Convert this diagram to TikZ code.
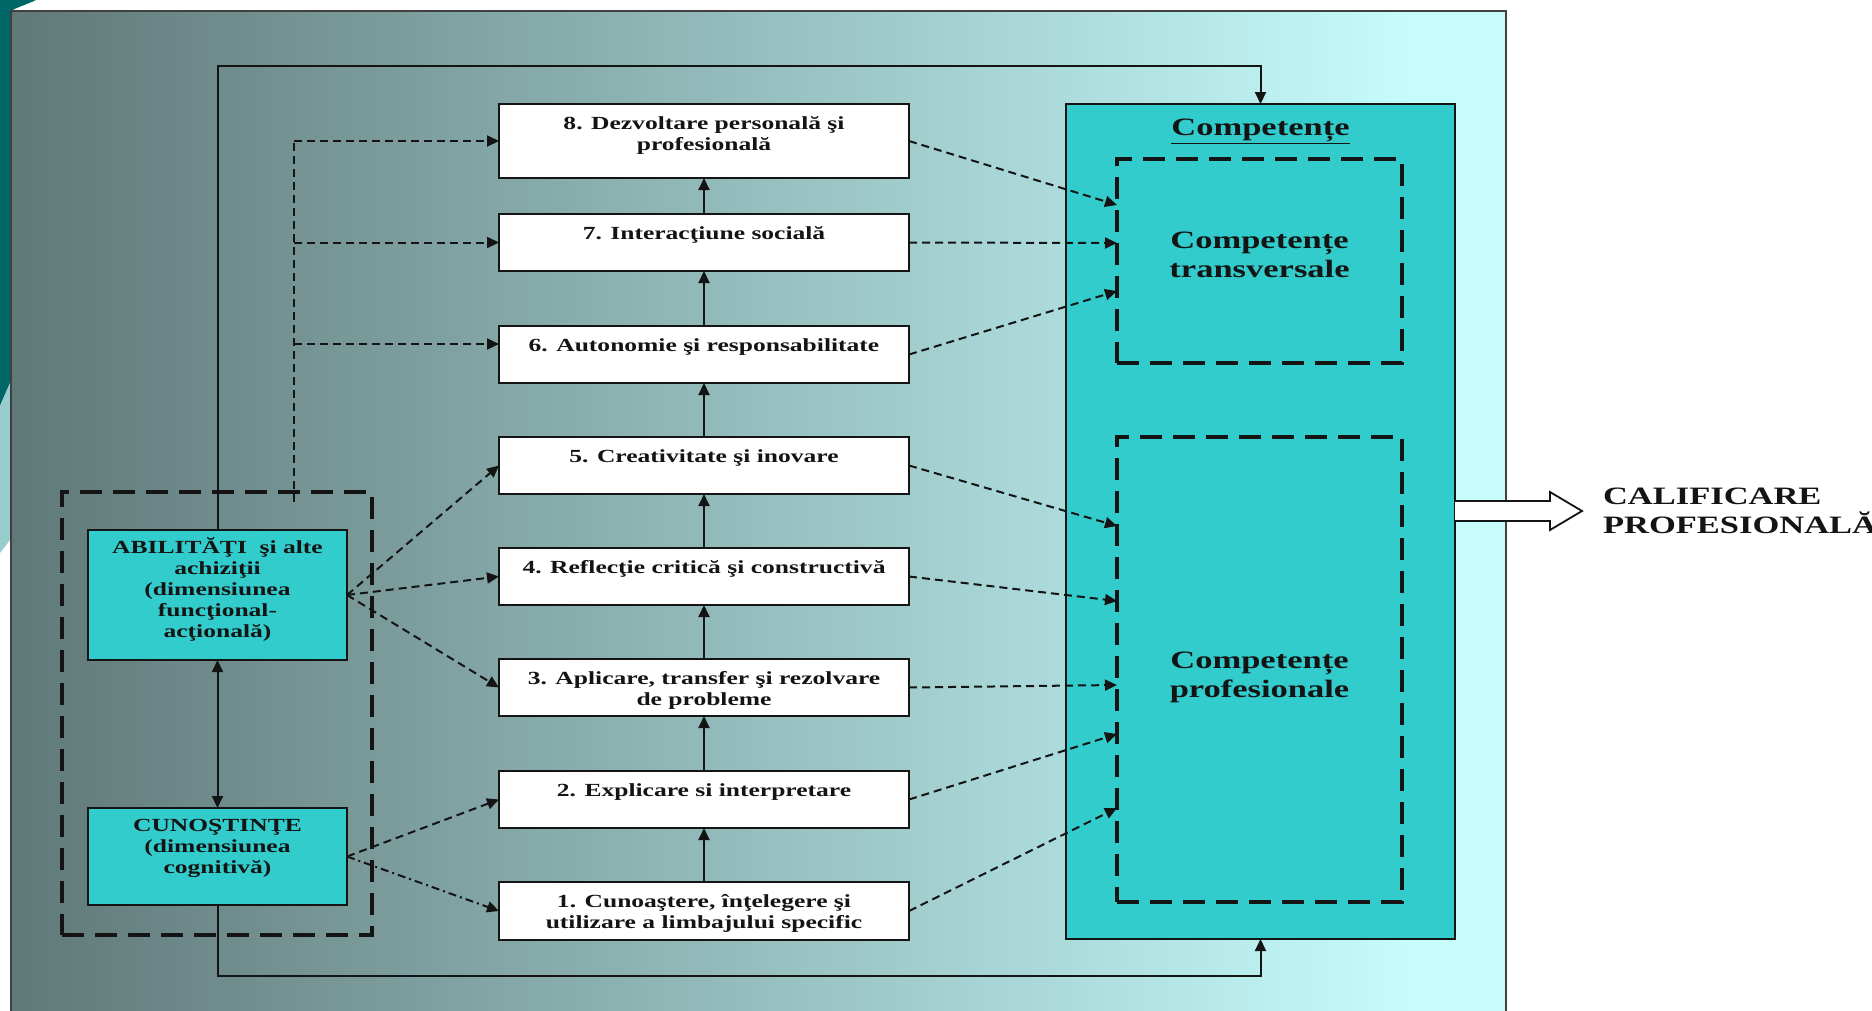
\documentclass[tikz,border=0pt]{standalone}
\usepackage{fontspec}
\setmainfont[FakeStretch=1.38]{Liberation Serif}
\usetikzlibrary{arrows.meta,calc}
\definecolor{bgL}{RGB}{96,120,120}
\definecolor{bgR}{RGB}{198,252,252}
\definecolor{cyanbox}{RGB}{51,204,204}
\definecolor{tealdark}{RGB}{0,102,102}
\definecolor{teallight}{RGB}{153,204,204}
\definecolor{ink}{RGB}{20,20,20}
\newcommand\tst{\rule{0pt}{18pt}}
\newcommand\tbig{\rule{0pt}{24pt}}
\begin{document}
\begin{tikzpicture}[x=1pt,y=-1pt,
  tip/.tip={Triangle[length=12pt,width=11pt]},
  wbox/.style={draw=ink,line width=2.4pt,fill=white,minimum width=410pt,minimum height=57pt,inner sep=0pt,outer sep=0pt},
  cbox/.style={draw=ink,line width=2.4pt,fill=cyanbox,inner sep=0pt,outer sep=0pt},
  grpbox/.style={draw=ink,line width=3.5pt,dash pattern=on 22pt off 11pt,line join=miter,inner sep=0pt,outer sep=0pt},
  txt/.style={inner sep=0pt,outer sep=0pt,align=center,text=ink,font=\bfseries\fontsize{18.5}{21}\selectfont},
  bigtxt/.style={inner sep=0pt,outer sep=0pt,align=center,text=ink,font=\bfseries\fontsize{25}{29}\selectfont},
  solidarr/.style={draw=ink,line width=2pt,-tip},
  dasharr/.style={draw=ink,line width=2pt,dash pattern=on 8pt off 5pt,-tip},
  dashline/.style={draw=ink,line width=2pt,dash pattern=on 8pt off 5pt},
  dashdotarr/.style={draw=ink,line width=2pt,dash pattern=on 8pt off 4pt on 2pt off 4pt,-tip}
]
\useasboundingbox (0,0) rectangle (1872,1010);
% slide decoration
\fill[tealdark] (0,0) -- (36,0) .. controls (26,5) and (14,8) .. (10,12) -- (10,383) -- (0,406) -- cycle;
\fill[teallight] (0,406) -- (10,383) -- (10,540) -- (0,553) -- cycle;
% background frame
\fill[bgR] (1400,11) rectangle (1506,1030);
\shade[left color=bgL,right color=bgR] (11,11) rectangle (1410,1030);
\draw[draw=black!75,line width=2pt] (11,11) rectangle (1506,1030);

% left group
\node[grpbox,minimum width=310pt,minimum height=443pt] (grp) at (217,713.5) {};

% competence box
\node[cbox,minimum width=389pt,minimum height=835pt] (comp) at (1260.5,521.5) {};
\node[grpbox,minimum width=285pt,minimum height=204pt] (tr) at (1259.5,261) {};
\node[grpbox,minimum width=285pt,minimum height=465pt] (pr) at (1259.5,669.5) {};
\node[bigtxt,anchor=north] (tcomp) at (1260.5,111) {\tbig\underline{Competențe}};
\node[bigtxt,anchor=north] (ttr) at ($(tr.north)+(0,65)$) {\tbig Competențe\\transversale};
\node[bigtxt,anchor=north] (tpr) at ($(pr.north)+(0,207)$) {\tbig Competențe\\profesionale};

% middle boxes
\node[wbox,minimum height=74pt] (b8) at (704,141) {};
\node[wbox] (b7) at (704,242.5) {};
\node[wbox] (b6) at (704,354.5) {};
\node[wbox] (b5) at (704,465.5) {};
\node[wbox] (b4) at (704,576.5) {};
\node[wbox] (b3) at (704,687.5) {};
\node[wbox] (b2) at (704,799.5) {};
\node[wbox,minimum height=58pt] (b1) at (704,911) {};
\node[txt,anchor=north] (t8) at ($(b8.north)+(0,7)$) {\tst 8. Dezvoltare personală şi\\profesională};
\node[txt,anchor=north] (t7) at ($(b7.north)+(0,7)$) {\tst 7. Interacţiune socială};
\node[txt,anchor=north] (t6) at ($(b6.north)+(0,7)$) {\tst 6. Autonomie şi responsabilitate};
\node[txt,anchor=north] (t5) at ($(b5.north)+(0,7)$) {\tst 5. Creativitate şi inovare};
\node[txt,anchor=north] (t4) at ($(b4.north)+(0,7)$) {\tst 4. Reflecţie critică şi constructivă};
\node[txt,anchor=north] (t3) at ($(b3.north)+(0,7)$) {\tst 3. Aplicare, transfer şi rezolvare\\de probleme};
\node[txt,anchor=north] (t2) at ($(b2.north)+(0,7)$) {\tst 2. Explicare si interpretare};
\node[txt,anchor=north] (t1) at ($(b1.north)+(0,7)$) {\tst 1. Cunoaştere, înţelegere şi\\utilizare a limbajului specific};

% left boxes
\node[cbox,minimum width=259pt,minimum height=130pt] (ab) at (217.5,595) {};
\node[cbox,minimum width=259pt,minimum height=97pt] (cu) at (217.5,856.5) {};
\node[txt,anchor=north] (tab) at ($(ab.north)+(0,5)$) {\tst ABILITĂŢI~ şi alte\\achiziţii\\(dimensiunea\\funcţional-\\acţională)};
\node[txt,anchor=north] (tcu) at ($(cu.north)+(0,5)$) {\tst CUNOŞTINŢE\\(dimensiunea\\cognitivă)};

% vertical chain
\draw[solidarr] (b1) -- (b2);
\draw[solidarr] (b2) -- (b3);
\draw[solidarr] (b3) -- (b4);
\draw[solidarr] (b4) -- (b5);
\draw[solidarr] (b5) -- (b6);
\draw[solidarr] (b6) -- (b7);
\draw[solidarr] (b7) -- (b8);

% ab <-> cu
\draw[draw=ink,line width=2pt,tip-tip] (ab) -- (cu);

% outer loops to competence box
\draw[solidarr] (ab.north) |- ($(comp.north)+(0,-38)$) -- (comp.north);
\draw[solidarr] (cu.south) |- ($(comp.south)+(0,37)$) -- (comp.south);

% dashed distribution line to 8,7,6
\coordinate (vt) at (294,141);
\coordinate (vb) at (294,502);
\coordinate (v7) at (294,242.5);
\coordinate (v6) at (294,344);
\draw[dashline] (vb) -- (vt);
\draw[dasharr] (vt) -- (b8.west);
\draw[dasharr] (v7) -- (b7.west);
\draw[dasharr] (v6) -- (v6 -| b6.west);

% from left boxes
\draw[dasharr] (ab.east) -- (b5.west);
\draw[dasharr] (ab.east) -- (b4.west);
\draw[dasharr] (ab.east) -- (b3.west);
\draw[dasharr] (cu.east) -- (b2.west);
\draw[dashdotarr] (cu.east) -- (b1.west);

% to competence boxes
\coordinate (e8) at (1117,205);
\coordinate (e7) at (1117,243);
\coordinate (e6) at (1117,291);
\coordinate (e5) at (1117,526);
\coordinate (e4) at (1117,601);
\coordinate (e3) at (1117,685);
\coordinate (e2) at (1117,734);
\coordinate (e1) at (1117,808);
\draw[dasharr] (b8.east) -- (e8);
\draw[dasharr] (b7.east) -- (e7);
\draw[dasharr] (b6.east) -- (e6);
\draw[dasharr] (b5.east) -- (e5);
\draw[dasharr] (b4.east) -- (e4);
\draw[dasharr] (b3.east) -- (e3);
\draw[dasharr] (b2.east) -- (e2);
\draw[dasharr] (b1.east) -- (e1);

% hollow output arrow
\coordinate (ha) at (1455,511);
\draw[draw=ink,line width=1.8pt,fill=white,line join=miter]
  ($(ha)+(0,-10)$) -- ++(95,0) -- ++(0,-9) -- ++(32,19) -- ++(-32,19) -- ++(0,-9) -- ++(-95,0);
\node[bigtxt,align=left,anchor=north west] (calif) at (1603,480) {\tbig CALIFICARE\\PROFESIONALĂ};
\end{tikzpicture}
\end{document}
